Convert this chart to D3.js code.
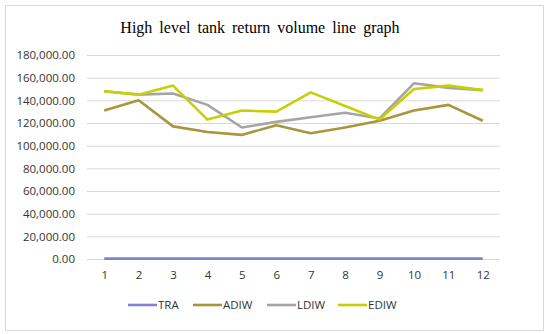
<!DOCTYPE html>
<html>
<head>
<meta charset="utf-8">
<script src="https://cdn.jsdelivr.net/npm/d3@7"></script>
<style>
  body { margin: 0; background: #fff; }
  svg { display: block; }
</style>
</head>
<body>
<div id="chart"></div>
<script>
// chart data
var months = ["1", "2", "3", "4", "5", "6", "7", "8", "9", "10", "11", "12"];
var yTicks = [0, 20000, 40000, 60000, 80000, 100000, 120000, 140000, 160000, 180000];
var seriesNames = ["TRA", "ADIW", "LDIW", "EDIW"];
var traValues = [300, 300, 300, 300, 300, 300, 300, 300, 300, 300, 300, 300];
var adiwValues = [131000, 140000, 117000, 112000, 109500, 118000, 111000, 116000, 122000, 131000, 136000, 122000];
var ldiwValues = [148000, 145000, 146000, 136000, 116000, 121000, 125000, 129000, 124000, 155000, 151000, 149000];
var ediwValues = [148000, 145000, 153000, 123000, 131000, 130000, 147000, 135000, 123000, 150000, 153000, 149000];

var colors = ["#7f83d3", "#a8963a", "#a5a5a5", "#c9cf05"];
var allValues = [traValues, adiwValues, ldiwValues, ediwValues];

var width = 550, height = 334;
var plotLeft = 87, plotRight = 500, plotTop = 55, plotBottom = 259;

var svg = d3.select("#chart").append("svg")
  .attr("width", width)
  .attr("height", height);

// outer frame
svg.append("rect")
  .attr("x", 5.5).attr("y", 5.5)
  .attr("width", 538).attr("height", 325)
  .attr("fill", "#fff")
  .attr("stroke", "#d9d9d9");

// title
svg.append("text")
  .attr("x", 260).attr("y", 33)
  .attr("text-anchor", "middle")
  .style("font-family", "'Liberation Serif', 'DejaVu Serif', serif")
  .style("font-size", "16px")
  .style("word-spacing", "3px")
  .attr("fill", "#000")
  .text("High level tank return volume line graph");

var x = d3.scalePoint()
  .domain(months)
  .range([plotLeft, plotRight])
  .padding(0.5);

var y = d3.scaleLinear()
  .domain([0, 180000])
  .range([plotBottom, plotTop]);

var fmt = d3.format(",.2f");

// gridlines + y labels
var yAxis = d3.axisLeft(y)
  .tickValues(yTicks)
  .tickSize(-(plotRight - plotLeft))
  .tickPadding(12)
  .tickFormat(fmt);

var gy = svg.append("g")
  .attr("transform", "translate(" + plotLeft + ",0)")
  .call(yAxis);
gy.select(".domain").remove();
gy.selectAll(".tick line").attr("stroke", "#d9d9d9");
gy.selectAll(".tick text")
  .attr("fill", "#333")
  .style("font-family", "'Open Sans', 'Noto Sans', sans-serif")
  .style("font-size", "11.5px");

// x labels
var xAxis = d3.axisBottom(x).tickSize(0).tickPadding(12);
var gx = svg.append("g")
  .attr("transform", "translate(0," + plotBottom + ")")
  .call(xAxis);
gx.select(".domain").remove();
gx.selectAll(".tick text")
  .attr("fill", "#333")
  .style("font-family", "'Open Sans', 'Noto Sans', sans-serif")
  .style("font-size", "11.5px");

// lines
var line = d3.line()
  .x(function (d, i) { return x(months[i]); })
  .y(function (d) { return y(d); });

allValues.forEach(function (vals, i) {
  svg.append("path")
    .datum(vals)
    .attr("fill", "none")
    .attr("stroke", colors[i])
    .attr("stroke-width", 2.6)
    .attr("stroke-linejoin", "round")
    .attr("d", line);
});

// legend
var legendX = [128, 193, 267, 338];
var legend = svg.append("g");
seriesNames.forEach(function (name, i) {
  legend.append("line")
    .attr("x1", legendX[i]).attr("x2", legendX[i] + 29)
    .attr("y1", 305).attr("y2", 305)
    .attr("stroke", colors[i])
    .attr("stroke-width", 2.6);
  legend.append("text")
    .attr("x", legendX[i] + 30).attr("y", 309)
    .attr("fill", "#333")
    .style("font-family", "'Open Sans', 'Noto Sans', sans-serif")
    .style("font-size", "11.5px")
    .text(name);
});
</script>
</body>
</html>
